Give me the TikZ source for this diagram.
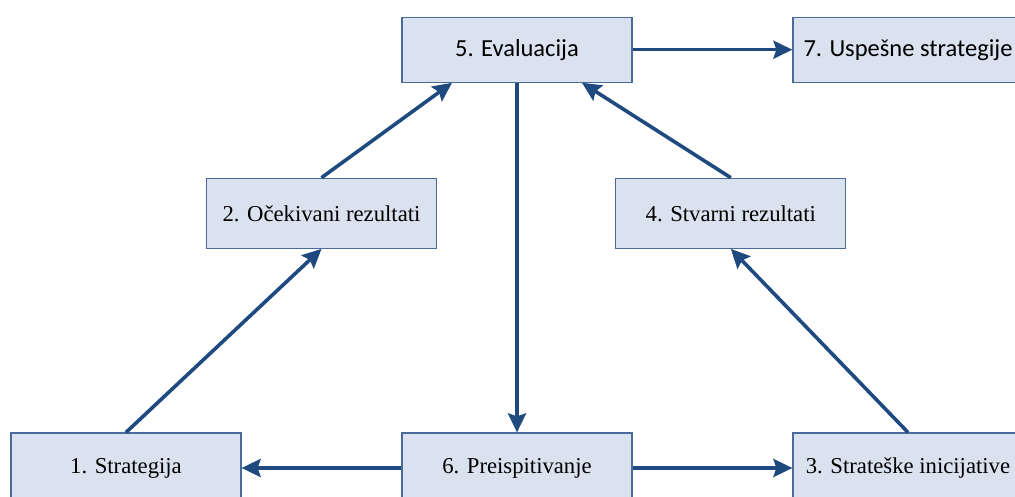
\documentclass[tikz,border=0pt]{standalone}
\usepackage{fontspec}
\setmainfont{Liberation Serif}
\newfontfamily\calib{Carlito}
\usetikzlibrary{arrows.meta}
\definecolor{boxfill}{HTML}{D9E2EE}
\definecolor{boxline}{HTML}{4A6A9C}
\definecolor{flow}{HTML}{1F4A7F}
\tikzset{
  box/.style={draw=boxline, fill=boxfill, line width=1.2pt, inner sep=0pt,
    minimum width=230pt, minimum height=65pt, font=\fontsize{22.7}{26}\selectfont},
  tallbox/.style={box, minimum height=70pt},
  sansbox/.style={box, font=\calib\fontsize{24.5}{28}\selectfont},
  flowarrow/.style={draw=flow, line width=3.6pt,
    -{Stealth[length=19pt, width=18pt, inset=3pt]}}
}
\begin{document}
\begin{tikzpicture}[x=1pt, y=-1pt]
\useasboundingbox (0,0) rectangle (1015,497);
\clip (0,0) rectangle (1015,497);

% top row
\node[sansbox] (eval) at (517,49.7) {5. Evaluacija};
\node[sansbox] (uspesne) at (908,49.7) {7. Uspešne strategije};

% middle row
\node[tallbox] (ocek) at (321.5,213.3) {2. Očekivani rezultati};
\node[tallbox] (stvar) at (730.8,213.3) {4. Stvarni rezultati};

% bottom row
\node[tallbox] (strat) at (126,468) {1. Strategija};
\node[tallbox] (preis) at (517,468) {6. Preispitivanje};
\node[tallbox] (inic) at (908,468) {3. Strateške inicijative};

% connectors
\draw[flowarrow] (eval.east) -- (uspesne.west);
\draw[flowarrow] (eval.south) -- (preis.north);
\draw[flowarrow] (preis.west) -- (strat.east);
\draw[flowarrow] (preis.east) -- (inic.west);
\draw[flowarrow] (strat.north) -- (ocek.south);
\draw[flowarrow] (ocek.north) -- ([xshift=-65pt]eval.south);
\draw[flowarrow] (inic.north) -- (stvar.south);
\draw[flowarrow] (stvar.north) -- ([xshift=65pt]eval.south);
\end{tikzpicture}
\end{document}
